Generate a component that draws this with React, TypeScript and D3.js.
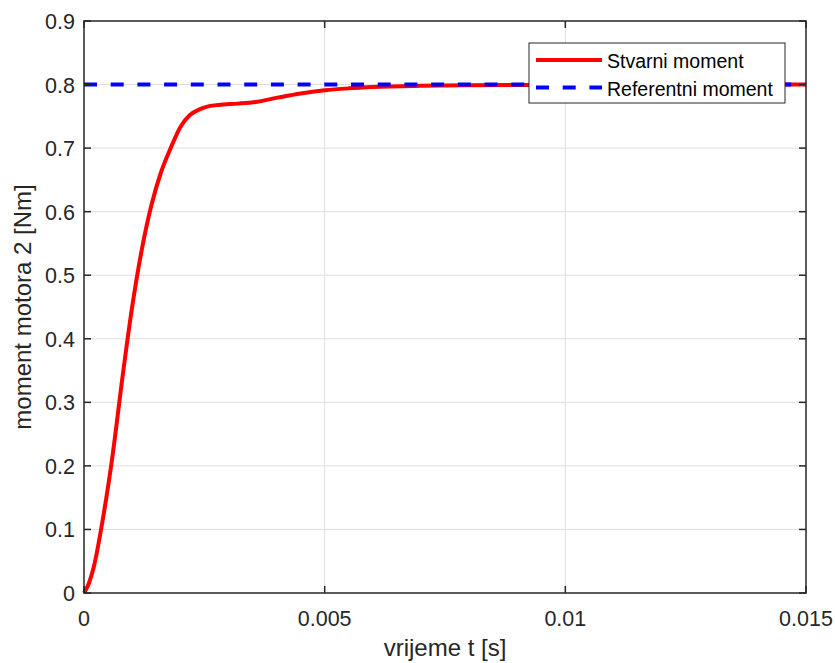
import React, { useEffect, useRef } from 'react';
import * as d3 from 'd3';

// measured response (time in s, torque in Nm)
const timeValues = [0, 0.0001, 0.0002, 0.0004, 0.0006, 0.0008, 0.001, 0.0012, 0.0014, 0.0016, 0.0018,
  0.002, 0.0022, 0.0024, 0.0026, 0.0028, 0.0032, 0.0036, 0.004, 0.0045, 0.005, 0.0055, 0.006,
  0.007, 0.008, 0.01, 0.012, 0.015];
const torqueValues = [0, 0.015, 0.04, 0.12, 0.22, 0.34, 0.45, 0.54, 0.61, 0.662, 0.7,
  0.733, 0.752, 0.761, 0.766, 0.768, 0.770, 0.773, 0.779, 0.786, 0.791, 0.794, 0.796,
  0.798, 0.799, 0.7995, 0.8, 0.8];
const referenceTorque = 0.8;

const xTicks = [0, 0.005, 0.01, 0.015];
const yTicks = [0, 0.1, 0.2, 0.3, 0.4, 0.5, 0.6, 0.7, 0.8, 0.9];
const legendLabels = ['Stvarni moment', 'Referentni moment'];

export default function App() {
  const ref = useRef<SVGSVGElement>(null);

  useEffect(() => {
    const width = 835;
    const height = 663;
    const margin = { left: 84, right: 29, top: 21, bottom: 70 };
    const svg = d3.select(ref.current);
    svg.selectAll('*').remove();

    const x = d3.scaleLinear().domain([0, 0.015]).range([margin.left, width - margin.right]);
    const y = d3.scaleLinear().domain([0, 0.9]).range([height - margin.bottom, margin.top]);
    const font = '"Liberation Sans", Arial, sans-serif';

    svg.append('rect').attr('width', width).attr('height', height).attr('fill', '#fff');

    // grid
    const grid = svg.append('g').attr('stroke', '#dedede').attr('stroke-width', 1);
    xTicks.slice(1, -1).forEach((t) => {
      grid.append('line').attr('x1', x(t)).attr('x2', x(t)).attr('y1', y(0)).attr('y2', y(0.9));
    });
    yTicks.slice(1, -1).forEach((t) => {
      grid.append('line').attr('x1', x(0)).attr('x2', x(0.015)).attr('y1', y(t)).attr('y2', y(t));
    });

    // curves
    const pts = timeValues.map((t, i) => [t, torqueValues[i]] as [number, number]);
    const line = d3.line<[number, number]>()
      .x((d) => x(d[0]))
      .y((d) => y(d[1]))
      .curve(d3.curveMonotoneX);

    svg.append('path')
      .attr('d', line(pts))
      .attr('fill', 'none')
      .attr('stroke', '#ff0000')
      .attr('stroke-width', 4)
      .attr('stroke-linejoin', 'round');

    svg.append('line')
      .attr('x1', x(0)).attr('x2', x(0.015))
      .attr('y1', y(referenceTorque)).attr('y2', y(referenceTorque))
      .attr('stroke', '#0000ff')
      .attr('stroke-width', 4)
      .attr('stroke-dasharray', '13 13.7');

    // axes box + ticks
    const axis = svg.append('g').attr('stroke', '#262626').attr('stroke-width', 1.5).attr('fill', 'none');
    axis.append('rect')
      .attr('x', x(0)).attr('y', y(0.9))
      .attr('width', x(0.015) - x(0)).attr('height', y(0) - y(0.9));
    yTicks.forEach((t) => {
      axis.append('line').attr('x1', x(0)).attr('x2', x(0) + 7).attr('y1', y(t)).attr('y2', y(t));
      axis.append('line').attr('x1', x(0.015)).attr('x2', x(0.015) - 7).attr('y1', y(t)).attr('y2', y(t));
    });
    xTicks.forEach((t) => {
      axis.append('line').attr('x1', x(t)).attr('x2', x(t)).attr('y1', y(0)).attr('y2', y(0) - 7);
      axis.append('line').attr('x1', x(t)).attr('x2', x(t)).attr('y1', y(0.9)).attr('y2', y(0.9) + 7);
    });

    // tick labels
    svg.append('g').selectAll('text').data(yTicks).enter().append('text')
      .attr('x', x(0) - 9).attr('y', (d) => y(d) + 1)
      .attr('text-anchor', 'end').attr('dominant-baseline', 'central')
      .style('font-family', font).style('font-size', '21.5px').style('fill', '#262626')
      .text((d) => d3.format('')(d));

    svg.append('g').selectAll('text').data(xTicks).enter().append('text')
      .attr('x', (d) => x(d)).attr('y', y(0) + 33)
      .attr('text-anchor', 'middle')
      .style('font-family', font).style('font-size', '21.5px').style('fill', '#262626')
      .text((d) => d3.format('')(d));

    // axis labels
    svg.append('text')
      .attr('x', (x(0) + x(0.015)) / 2).attr('y', 656)
      .attr('text-anchor', 'middle')
      .style('font-family', font).style('font-size', '24px').style('fill', '#262626')
      .text('vrijeme t [s]');

    svg.append('text')
      .attr('transform', `translate(31, ${(y(0) + y(0.9)) / 2}) rotate(-90)`)
      .attr('text-anchor', 'middle')
      .style('font-family', font).style('font-size', '24px').style('fill', '#262626')
      .text('moment motora 2 [Nm]');

    // legend
    const lg = svg.append('g');
    lg.append('rect')
      .attr('x', 529).attr('y', 43).attr('width', 256).attr('height', 60)
      .attr('fill', '#fff').attr('stroke', '#262626').attr('stroke-width', 1);
    legendLabels.forEach((label, i) => {
      const cy = 60 + i * 27.5;
      lg.append('line')
        .attr('x1', 536).attr('x2', 602).attr('y1', cy).attr('y2', cy)
        .attr('stroke', i === 0 ? '#ff0000' : '#0000ff')
        .attr('stroke-width', 4)
        .attr('stroke-dasharray', i === 0 ? null : '13 13.7');
      lg.append('text')
        .attr('x', 607).attr('y', cy + 1)
        .attr('dominant-baseline', 'central')
        .style('font-family', font).style('font-size', '19.5px').style('fill', '#000')
        .text(label);
    });
  }, []);

  return (
    <svg
      ref={ref}
      width={835}
      height={663}
      style={{ display: 'block', position: 'absolute', left: 0, top: 0 }}
    />
  );
}
